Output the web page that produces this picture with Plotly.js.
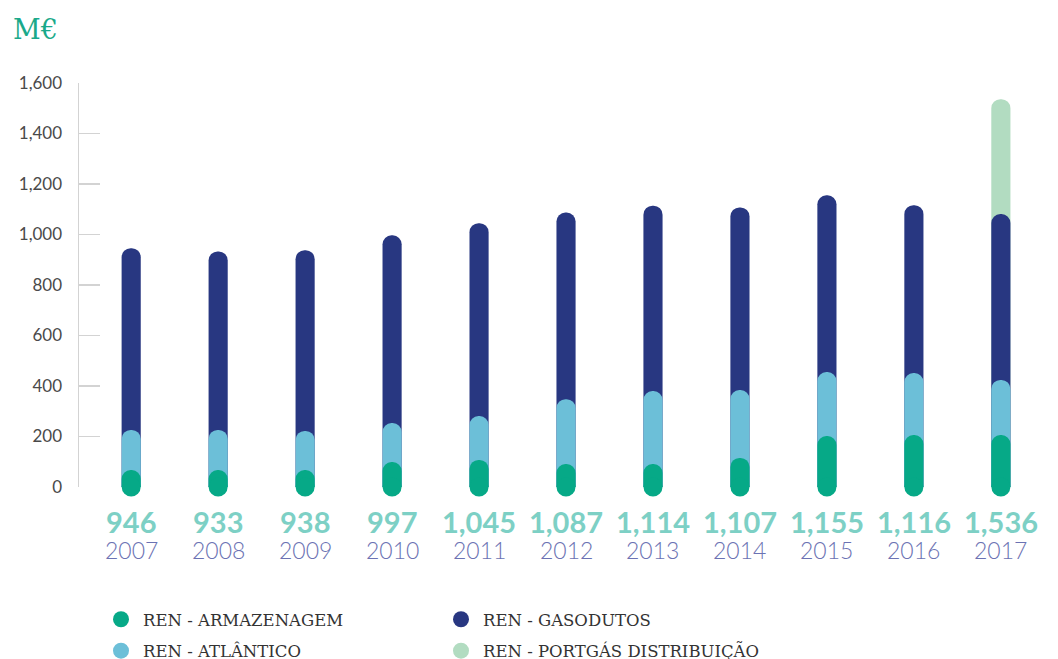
<!DOCTYPE html>
<html>
<head>
<meta charset="utf-8">
<script src="https://cdn.plot.ly/plotly-3.0.1.min.js"></script>
<style>
  html, body { margin: 0; padding: 0; background: #fff; overflow: hidden; }
  #chart { width: 1058px; height: 659px; }
</style>
</head>
<body>
<div id="chart"></div>
<script>
// Data (M€)
const years = ['2007', '2008', '2009', '2010', '2011', '2012', '2013', '2014', '2015', '2016', '2017'];
const totals = ['946', '933', '938', '997', '1,045', '1,087', '1,114', '1,107', '1,155', '1,116', '1,536'];
const armazenagem = [67, 67, 67, 99, 107, 91, 91, 115, 202, 206, 206];
const atlantico = [159, 159, 155, 154, 174, 257, 289, 269, 253, 245, 218];
const gasodutos = [720, 707, 716, 744, 764, 739, 734, 723, 700, 665, 657];
const portgas = [0, 0, 0, 0, 0, 0, 0, 0, 0, 0, 455];

const colors = {
    armazenagem: '#06a987',
    atlantico: '#6cbfd8',
    gasodutos: '#283781',
    portgas: '#b2dcc1'
};

// each segment is drawn as its own pill from zero to the cumulative top,
// tallest first so the shorter ones sit on top (one overlaid axis each,
// so every pill gets its own rounded top)
const cumArm = armazenagem.slice();
const cumAtl = cumArm.map((v, i) => v + atlantico[i]);
const cumGas = cumAtl.map((v, i) => v + gasodutos[i]);
const cumPort = cumGas.map((v, i) => portgas[i] > 0 ? v + portgas[i] : null);

function pill(y, color, xaxis) {
    return {
        x: years, y: y, type: 'bar', xaxis: xaxis,
        marker: { color: color, line: { width: 0 } },
        showlegend: false, hoverinfo: 'skip'
    };
}

function legendDot(name, color, legend) {
    return {
        x: [null], y: [null], type: 'scatter', mode: 'markers',
        name: name, legend: legend, legendgroup: name,
        marker: { color: color, size: 16, symbol: 'circle' }
    };
}

const traces = [
    pill(cumPort, colors.portgas, 'x'),
    pill(cumGas, colors.gasodutos, 'x2'),
    pill(cumAtl, colors.atlantico, 'x3'),
    pill(cumArm, colors.armazenagem, 'x4'),
    // rounded foot of every bar
    {
        x: years, y: years.map(() => 0), type: 'scatter', mode: 'markers', xaxis: 'x4',
        marker: { color: colors.armazenagem, size: 19 },
        cliponaxis: false, showlegend: false, hoverinfo: 'skip'
    },
    legendDot('REN - ARMAZENAGEM', colors.armazenagem, 'legend'),
    legendDot('REN - ATLÂNTICO', colors.atlantico, 'legend'),
    legendDot('REN - GASODUTOS', colors.gasodutos, 'legend2'),
    legendDot('REN - PORTGÁS DISTRIBUIÇÃO', colors.portgas, 'legend2')
];

const annotations = [];
years.forEach((yr, i) => {
    annotations.push({
        x: i, y: -0.085, xref: 'x', yref: 'paper', showarrow: false,
        text: '<b>' + totals[i] + '</b>', yanchor: 'middle',
        font: { family: 'Lato', size: 29, color: '#7dd0c5' }
    });
    annotations.push({
        x: i, y: -0.155, xref: 'x', yref: 'paper', showarrow: false,
        text: yr, yanchor: 'middle',
        font: { family: 'Lato', size: 23, weight: 300, color: '#6b72b3' }
    });
});

const hiddenX = {
    type: 'category',
    range: [-0.6, 10.45],
    showticklabels: false, showgrid: false, zeroline: false,
    showline: false, ticks: ''
};

const legendFont = { family: 'DejaVu Serif', size: 16.5, color: '#333' };

const layout = {
    width: 1058,
    height: 659,
    margin: { l: 79, r: 18, t: 83, b: 172 },
    paper_bgcolor: '#fff',
    plot_bgcolor: '#fff',
    barmode: 'overlay',
    bargap: 0.78,
    barcornerradius: 10,
    title: {
        text: 'M€', x: 13 / 1058, xanchor: 'left', xref: 'container',
        y: 1 - 30 / 659, yanchor: 'middle', yref: 'container',
        font: { family: 'DejaVu Serif', size: 27, color: '#1aa98a' }
    },
    xaxis: Object.assign({}, hiddenX),
    xaxis2: Object.assign({ overlaying: 'x' }, hiddenX),
    xaxis3: Object.assign({ overlaying: 'x' }, hiddenX),
    xaxis4: Object.assign({ overlaying: 'x' }, hiddenX),
    yaxis: {
        range: [0, 1600],
        tickvals: [0, 200, 400, 600, 800, 1000, 1200, 1400, 1600],
        tickformat: ',',
        showgrid: false, zeroline: false,
        showline: true, linecolor: '#d3d3d3', linewidth: 1.5,
        ticks: 'inside', ticklen: 21, tickwidth: 1.5, tickcolor: '#d3d3d3',
        ticklabelstandoff: 12,
        tickfont: { family: 'Lato', size: 17, color: '#4a4a4a' }
    },
    legend: {
        x: (99 - 79) / 961, xref: 'paper', y: 1 - 602 / 659, yref: 'container',
        xanchor: 'left', yanchor: 'top',
        orientation: 'v', traceorder: 'grouped', tracegroupgap: 7, itemwidth: 34,
        font: legendFont, bgcolor: 'rgba(0,0,0,0)'
    },
    legend2: {
        x: (439 - 79) / 961, xref: 'paper', y: 1 - 602 / 659, yref: 'container',
        xanchor: 'left', yanchor: 'top',
        orientation: 'v', traceorder: 'grouped', tracegroupgap: 7, itemwidth: 34,
        font: legendFont, bgcolor: 'rgba(0,0,0,0)'
    },
    annotations: annotations,
    showlegend: true
};

Plotly.newPlot('chart', traces, layout, { displayModeBar: false, staticPlot: true });
</script>
</body>
</html>
